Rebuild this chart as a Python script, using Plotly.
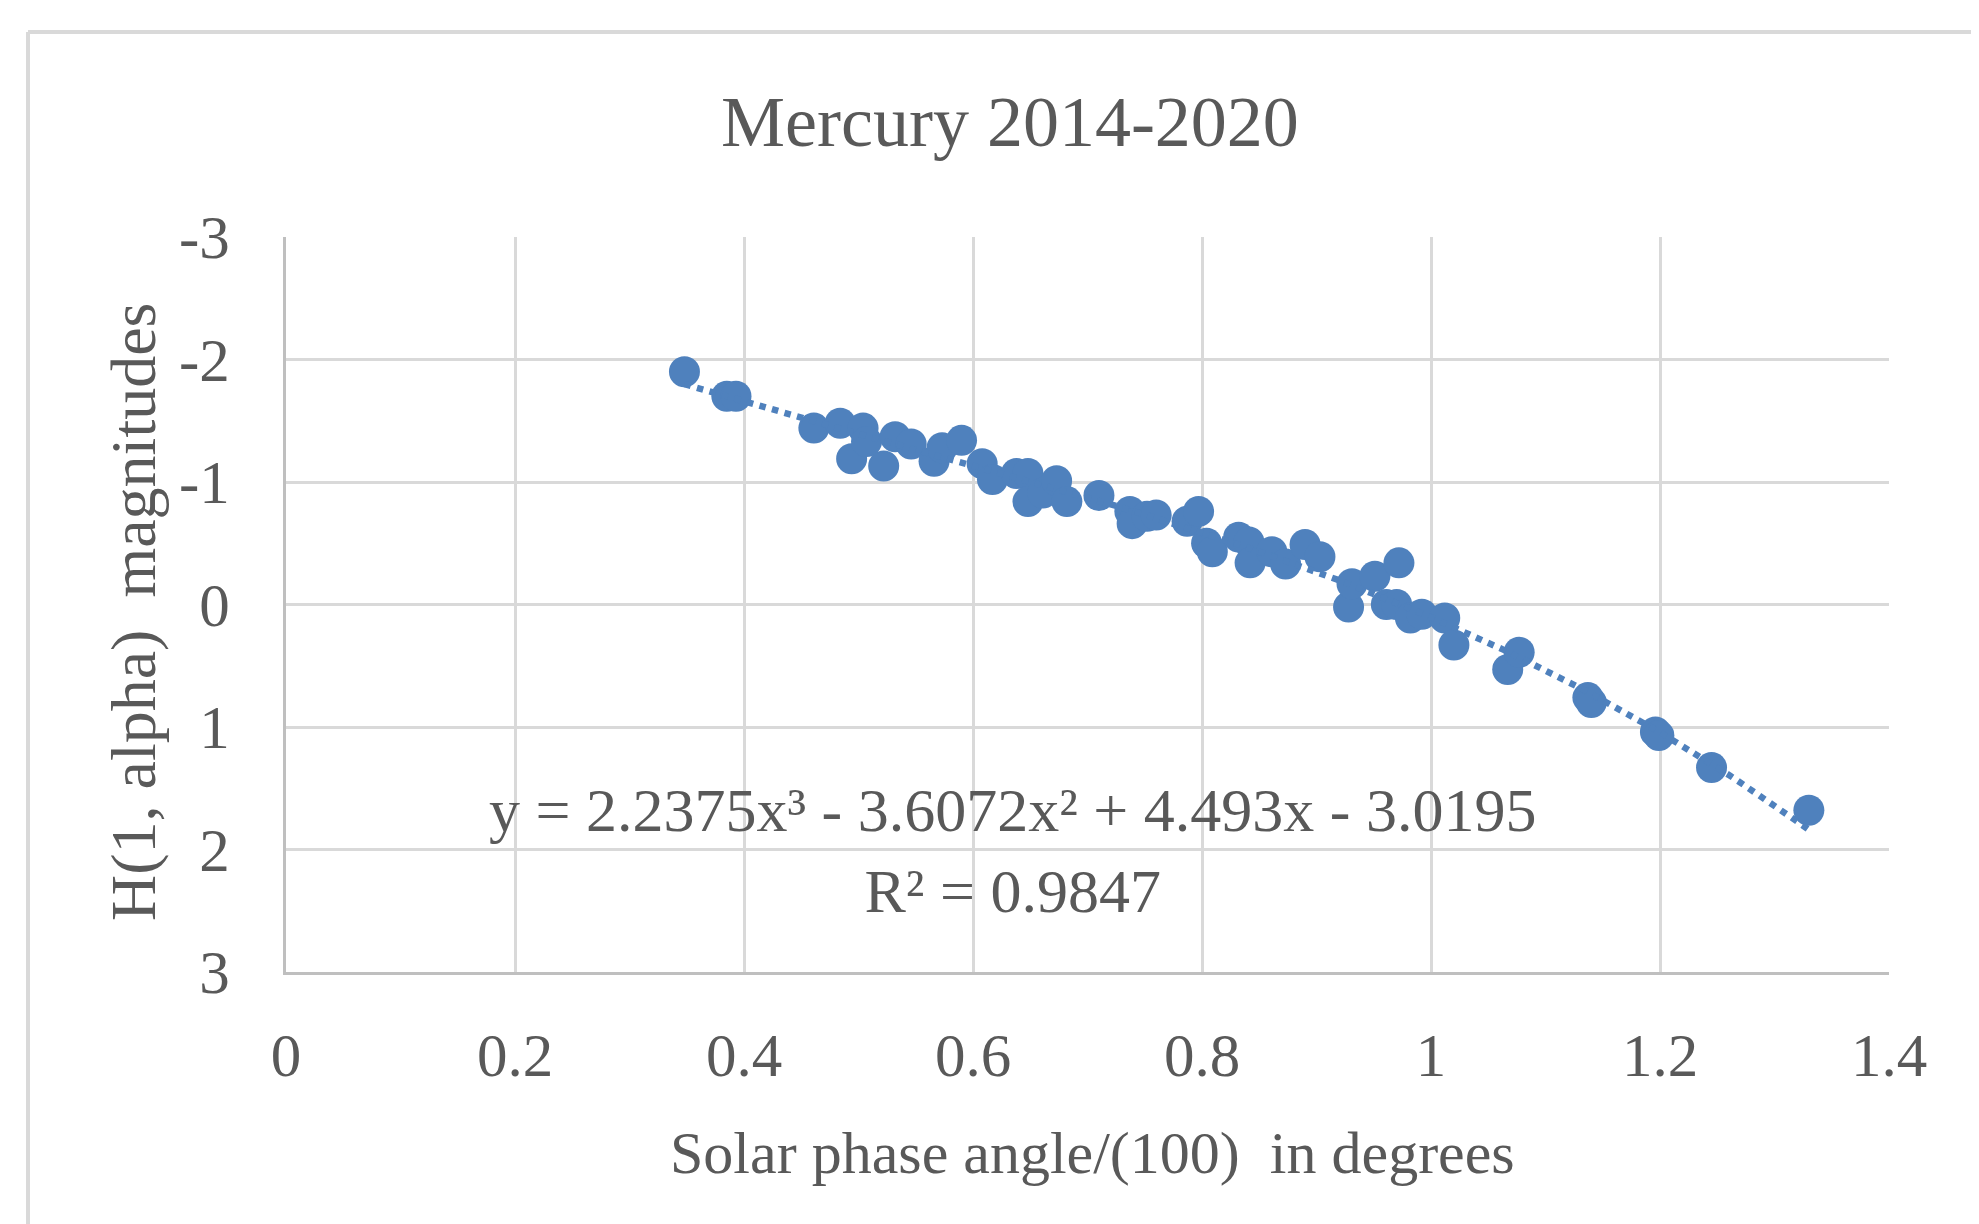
import numpy as np
import plotly.graph_objects as go

# ---- data ----
phase_angle = [0.348, 0.385, 0.393, 0.461, 0.484, 0.494, 0.504, 0.507, 0.522, 0.532,
               0.546, 0.566, 0.573, 0.590, 0.608, 0.617, 0.638, 0.648, 0.648, 0.661,
               0.673, 0.682, 0.710, 0.737, 0.739, 0.752, 0.760, 0.787, 0.797, 0.804,
               0.809, 0.832, 0.841, 0.842, 0.861, 0.873, 0.890, 0.903, 0.928, 0.931,
               0.951, 0.961, 0.970, 0.972, 0.982, 0.992, 1.012, 1.020, 1.067, 1.077,
               1.137, 1.140, 1.196, 1.199, 1.245, 1.330]
magnitude = [-1.90, -1.70, -1.70, -1.44, -1.48, -1.19, -1.44, -1.33, -1.13, -1.37,
             -1.31, -1.17, -1.28, -1.34, -1.15, -1.02, -1.07, -1.07, -0.84, -0.91,
             -1.01, -0.84, -0.89, -0.76, -0.66, -0.72, -0.73, -0.68, -0.76, -0.50,
             -0.43, -0.55, -0.51, -0.34, -0.43, -0.33, -0.49, -0.39, 0.02, -0.17,
             -0.23, 0.00, 0.00, -0.34, 0.11, 0.08, 0.11, 0.33, 0.53, 0.39,
             0.76, 0.80, 1.04, 1.07, 1.33, 1.68]

# trendline coefficients as printed on the chart (cubic, highest power first)
trend_coeffs = [2.2375, -3.6072, 4.493, -3.0195]
r_squared = 0.9847

x_tickvals = [0, 0.2, 0.4, 0.6, 0.8, 1, 1.2, 1.4]
x_ticktext = ["0", "0.2", "0.4", "0.6", "0.8", "1", "1.2", "1.4"]
y_tickvals = [-3, -2, -1, 0, 1, 2, 3]
y_ticktext = ["-3", "-2", "-1", "0", "1", "2", "3"]

title_text = "Mercury 2014-2020"
x_title = "Solar phase angle/(100)\u00a0 in degrees"
y_title = "H(1, alpha)\u00a0 magnitudes"

# ---- styling ----
FONT = "Liberation Serif, Times New Roman, serif"
TXT = "#595959"
GRID = "#d9d9d9"
BLUE = "#4f81bd"

W, H = 1979, 1224
OFF = 8  # page body margin
L, R, T, B = 278, 98, 229, 260
pw = W - L - R
ph = H - T - B

def px_to_paper_x(px):
    return (px - OFF - L) / pw

def px_to_paper_y(py):
    return (H - B - (py - OFF)) / ph

trend_x = np.linspace(min(phase_angle), max(phase_angle), 200)
trend_y = np.polyval(trend_coeffs, trend_x)

fig = go.Figure()
fig.add_trace(go.Scatter(
    x=phase_angle, y=magnitude, mode="markers",
    marker=dict(color=BLUE, size=31, line=dict(width=0)),
    showlegend=False, hoverinfo="skip"))
fig.add_trace(go.Scatter(
    x=trend_x, y=trend_y, mode="lines",
    line=dict(color=BLUE, width=6.5, dash="dot"),
    showlegend=False, hoverinfo="skip"))

fig.update_layout(
    width=W, height=H,
    margin=dict(l=L, r=R, t=T, b=B),
    paper_bgcolor="white", plot_bgcolor="white",
    font=dict(family=FONT, color=TXT, size=61),
)
fig.update_xaxes(
    range=[0, 1.4], tickvals=x_tickvals, ticktext=x_ticktext,
    showgrid=True, gridcolor=GRID, gridwidth=3,
    showline=True, linecolor="#bfbfbf", linewidth=3,
    zeroline=False, ticks="", ticklabelstandoff=28,
    tickfont=dict(family=FONT, color=TXT, size=61),
)
fig.update_yaxes(
    range=[3, -3], tickvals=y_tickvals, ticktext=y_ticktext,
    showgrid=True, gridcolor=GRID, gridwidth=3,
    showline=True, linecolor="#bfbfbf", linewidth=3,
    zeroline=False, ticks="", ticklabelstandoff=41,
    tickfont=dict(family=FONT, color=TXT, size=61),
)

# chart-area border (left and top visible in the cropped reference)
fig.add_shape(type="line", xref="paper", yref="paper",
              x0=px_to_paper_x(28), x1=px_to_paper_x(2100),
              y0=px_to_paper_y(32), y1=px_to_paper_y(32),
              line=dict(color=GRID, width=4), layer="below")
fig.add_shape(type="line", xref="paper", yref="paper",
              x0=px_to_paper_x(28), x1=px_to_paper_x(28),
              y0=px_to_paper_y(32), y1=px_to_paper_y(1300),
              line=dict(color=GRID, width=4), layer="below")

# titles
fig.add_annotation(text=title_text, xref="paper", yref="paper",
                   x=px_to_paper_x(1010), y=px_to_paper_y(122),
                   xanchor="center", yanchor="middle", showarrow=False,
                   font=dict(family=FONT, color=TXT, size=72))
fig.add_annotation(text=x_title, xref="paper", yref="paper",
                   x=px_to_paper_x(1092), y=px_to_paper_y(1153),
                   xanchor="center", yanchor="middle", showarrow=False,
                   font=dict(family=FONT, color=TXT, size=60))
fig.add_annotation(text=y_title, xref="paper", yref="paper",
                   x=px_to_paper_x(133), y=px_to_paper_y(612),
                   xanchor="center", yanchor="middle", showarrow=False,
                   textangle=-90,
                   font=dict(family=FONT, color=TXT, size=64))

a, b, c, d = trend_coeffs
eq_text = (f"y = {a}x³ - {abs(b)}x² + {c}x - {abs(d)}<br>R² = {r_squared}")
fig.add_annotation(text=eq_text, xref="paper", yref="paper",
                   x=px_to_paper_x(1012), y=px_to_paper_y(850),
                   xanchor="center", yanchor="middle", showarrow=False,
                   align="center",
                   font=dict(family=FONT, color=TXT, size=62))

fig.write_html("out.html")
